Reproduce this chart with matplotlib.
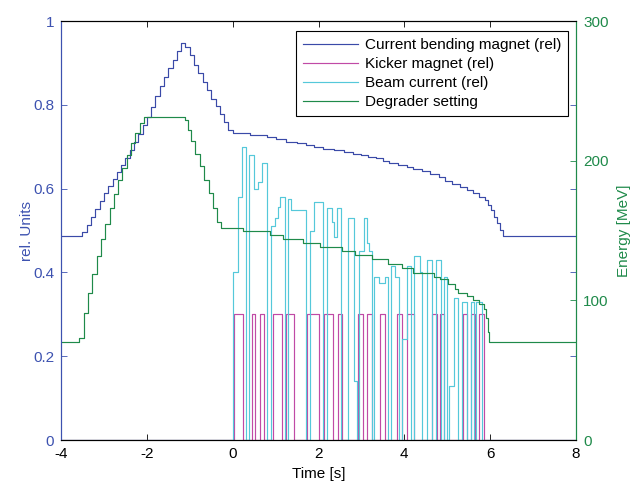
import matplotlib
matplotlib.use("Agg")
import matplotlib.pyplot as plt
from matplotlib.lines import Line2D

plt.rcParams['font.family'] = ['Liberation Sans', 'DejaVu Sans']

# ---------------- data ----------------
# Current bending magnet (relative), step-post
bend_t = [-4.0, -3.5, -3.4, -3.3, -3.2, -3.1, -3.0, -2.9, -2.8, -2.7, -2.6, -2.5, -2.4,
          -2.3, -2.2, -2.1, -2.0, -1.9, -1.8, -1.7, -1.6, -1.5, -1.4, -1.3, -1.2,
          -1.1, -1.0, -0.9, -0.8, -0.7, -0.6, -0.5, -0.4, -0.3, -0.2, -0.1, 0.0,
          0.4, 0.8, 1.0, 1.25, 1.5, 1.7, 1.9, 2.1, 2.35, 2.6, 2.8, 3.0, 3.15, 3.35,
          3.5, 3.65, 3.85, 4.05, 4.2, 4.4, 4.6, 4.8, 4.95, 5.1, 5.3, 5.45, 5.6, 5.75,
          5.88, 5.95, 6.02, 6.08, 6.15, 6.22, 6.3, 8.0]
bend_v = [0.488, 0.497, 0.514, 0.533, 0.551, 0.570, 0.589, 0.606, 0.622, 0.640, 0.657, 0.674, 0.692,
          0.711, 0.731, 0.752, 0.772, 0.795, 0.820, 0.846, 0.866, 0.887, 0.908, 0.928, 0.947,
          0.937, 0.918, 0.896, 0.875, 0.855, 0.836, 0.815, 0.797, 0.778, 0.758, 0.740, 0.733,
          0.729, 0.724, 0.718, 0.712, 0.708, 0.705, 0.700, 0.695, 0.691, 0.687, 0.683, 0.680, 0.676, 0.672,
          0.667, 0.661, 0.656, 0.651, 0.647, 0.643, 0.636, 0.627, 0.619, 0.612, 0.604, 0.597, 0.589, 0.581,
          0.572, 0.560, 0.548, 0.533, 0.518, 0.502, 0.488, 0.488]

# Kicker magnet (relative): on/off switching times
kick_on = [0.04, 0.44, 0.64, 0.95, 1.24, 1.74, 2.13, 2.45, 2.93, 3.14, 3.44, 3.84,
           4.05, 4.65, 4.83, 5.36, 5.55, 5.75]
kick_off = [0.23, 0.53, 0.73, 1.15, 1.43, 2.02, 2.34, 2.54, 3.04, 3.25, 3.54, 3.95,
            4.23, 4.75, 4.93, 5.45, 5.65, 5.86]
kick_level = 0.3

# Beam current (relative), step-post
beam_t = [-4.0, 0.00, 0.12, 0.21, 0.31, 0.38, 0.50, 0.60, 0.69, 0.81, 0.90, 0.98, 1.05, 1.10,
          1.22, 1.29, 1.36, 1.70, 1.81, 1.89, 2.11, 2.19, 2.32, 2.37, 2.42, 2.52, 2.69,
          2.83, 2.90, 2.95, 3.05, 3.12, 3.18, 3.25, 3.30, 3.40, 3.55, 3.62, 3.70, 3.78,
          3.88, 3.95, 4.05, 4.15, 4.22, 4.36, 4.42, 4.52, 4.64, 4.73, 4.85, 4.92, 5.00,
          5.05, 5.15, 5.25, 5.35, 5.45, 5.55, 5.62, 5.68, 5.80, 8.0]
beam_v = [0.0, 0.40, 0.58, 0.70, 0.0, 0.68, 0.60, 0.616, 0.66, 0.0, 0.51, 0.53, 0.555, 0.58,
          0.0, 0.575, 0.55, 0.0, 0.50, 0.567, 0.0, 0.553, 0.52, 0.485, 0.553, 0.0, 0.53,
          0.14, 0.0, 0.45, 0.53, 0.47, 0.45, 0.0, 0.39, 0.375, 0.39, 0.0, 0.415, 0.39,
          0.0, 0.24, 0.415, 0.0, 0.44, 0.40, 0.0, 0.43, 0.0, 0.43, 0.0, 0.39, 0.0,
          0.13, 0.34, 0.0, 0.33, 0.0, 0.33, 0.0, 0.33, 0.0, 0.0]

# Degrader setting [MeV], step-post
deg_t = [-4.0, -3.58, -3.47, -3.37, -3.27, -3.17, -3.07, -2.97, -2.87, -2.77, -2.67, -2.57,
         -2.47, -2.37, -2.27, -2.17, -2.07, -1.12, -1.04, -0.96, -0.87, -0.77, -0.66,
         -0.56, -0.45, -0.36, -0.27, 0.25, 0.86, 1.17, 1.64, 2.03, 2.54, 2.84, 3.24,
         3.63, 3.94, 4.21, 4.70, 4.83, 5.02, 5.18, 5.26, 5.45, 5.61, 5.75, 5.85, 5.90,
         5.95, 5.98, 8.0]
deg_v = [70, 73, 91, 105, 119, 132, 144, 155, 166, 176, 186, 195,
         204, 213, 220, 227, 231.5, 229, 222, 214, 205, 196, 186,
         177, 166, 156, 152, 149.5, 146.5, 144, 141, 138, 135, 132.5, 129.5,
         126, 123, 119.5, 116.5, 115, 111.5, 108, 105.5, 103, 100.5, 97.5, 94, 87,
         77, 70, 70]

x_ticks = [-4, -2, 0, 2, 4, 6, 8]
left_ticks = [0, 0.2, 0.4, 0.6, 0.8, 1]
left_ticklabels = ['0', '0.2', '0.4', '0.6', '0.8', '1']
right_ticks = [0, 100, 200, 300]

labels = ['Current bending magnet (rel)', 'Kicker magnet (rel)',
          'Beam current (rel)', 'Degrader setting']

# ---------------- style ----------------
c_bend = '#3a4aa8'
c_kick = '#c04aa6'
c_beam = '#55c8da'
c_deg = '#1f8a4a'
c_left = '#3d52b0'
c_right = '#1f8a4a'

# kicker square wave built from switching times
kick_t = [-4.0]
kick_v = [0.0]
for a, b in zip(kick_on, kick_off):
    kick_t += [a, b]
    kick_v += [kick_level, 0.0]
kick_t.append(8.0)
kick_v.append(0.0)

fig = plt.figure(figsize=(6.33, 4.84), dpi=100)
ax1 = fig.add_axes([0.0964, 0.0909, 0.8136, 0.8657])
ax2 = ax1.twinx()

lw = 0.85
ax1.plot(bend_t, bend_v, drawstyle='steps-post', color=c_bend, lw=lw)
ax1.plot(kick_t, kick_v, drawstyle='steps-post', color=c_kick, lw=lw)
ax1.plot(beam_t, beam_v, drawstyle='steps-post', color=c_beam, lw=lw)
ax2.plot(deg_t, deg_v, drawstyle='steps-post', color=c_deg, lw=lw)

ax1.set_xlim(-4, 8)
ax1.set_ylim(0, 1)
ax2.set_ylim(0, 300)
ax1.set_xticks(x_ticks)
ax1.set_xticklabels([str(v) for v in x_ticks])
ax1.set_yticks(left_ticks)
ax1.set_yticklabels(left_ticklabels)
ax2.set_yticks(right_ticks)

fs = 11
ax1.tick_params(axis='x', direction='in', top=True, length=4, labelsize=fs,
                colors='black', width=0.6, pad=5)
ax1.tick_params(axis='y', direction='in', left=True, right=True, length=4,
                labelsize=fs, colors=c_left, width=0.6, pad=5)
ax2.tick_params(axis='y', direction='in', length=4, labelsize=fs,
                colors=c_right, width=0.6, pad=5)

for sp in ['top', 'bottom']:
    ax1.spines[sp].set_color('black')
    ax2.spines[sp].set_color('black')
ax1.spines['left'].set_color(c_left)
ax2.spines['left'].set_color(c_left)
ax2.spines['right'].set_color(c_right)
ax1.spines['right'].set_color(c_right)
for ax in (ax1, ax2):
    for sp in ax.spines.values():
        sp.set_linewidth(0.8)

ax1.set_xlabel('Time [s]', fontsize=fs, labelpad=4)
ax1.set_ylabel('rel. Units', fontsize=fs, color=c_left)
ax1.yaxis.set_label_coords(-0.052, 0.5)
ax2.set_ylabel('Energy [MeV]', fontsize=fs, color=c_right)
ax2.yaxis.set_label_coords(1.079, 0.5)

handles = [Line2D([], [], color=c, lw=lw) for c in (c_bend, c_kick, c_beam, c_deg)]
leg = ax2.legend(handles, labels, loc='upper right', bbox_to_anchor=(0.9845, 0.976),
                 fontsize=fs, frameon=True, fancybox=False, edgecolor='black',
                 framealpha=1, handlelength=3.6, borderaxespad=0.0, labelspacing=0.33,
                 handletextpad=0.45, borderpad=0.45)
leg.get_frame().set_linewidth(0.8)

fig.savefig('out.png', dpi=100)
